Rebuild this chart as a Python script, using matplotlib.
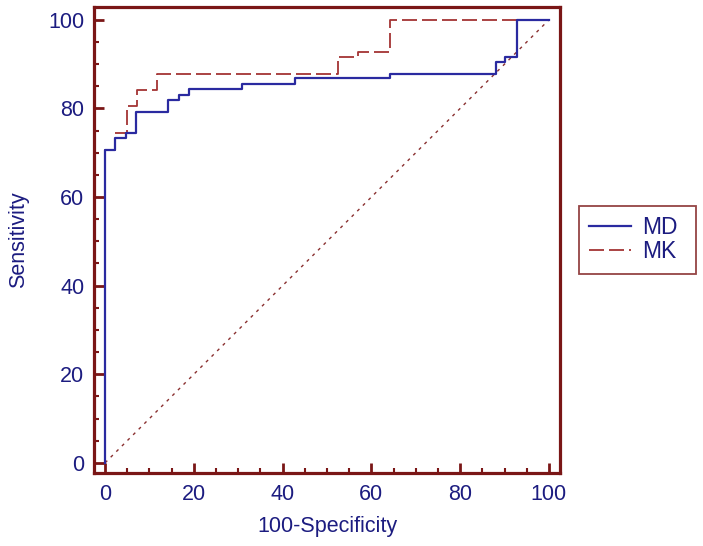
import matplotlib
matplotlib.use("Agg")
import matplotlib.pyplot as plt
from matplotlib.ticker import MultipleLocator

plt.rcParams['font.family'] = ['Liberation Sans', 'DejaVu Sans']
plt.rcParams['lines.scale_dashes'] = False

# ROC step points (100-Specificity, Sensitivity)
md_fpr = [0, 0, 2.2, 4.6, 7.0, 14.2, 16.7, 18.9, 30.9, 42.7, 64.3, 88.0, 90.2, 92.9, 100]
md_tpr = [0, 70.6, 73.3, 74.4, 79.3, 81.8, 83.1, 84.3, 85.6, 86.9, 87.8, 90.4, 91.7, 100, 100]
mk_fpr = [0, 0, 2.2, 4.9, 7.1, 11.8, 52.4, 56.9, 64.2, 100]
mk_tpr = [0, 70.6, 74.4, 80.6, 84.2, 87.8, 91.6, 92.7, 100, 100]
ref_x = [0, 100]
ref_y = [0, 100]
series_names = ["MD", "MK"]
xticks = [0, 20, 40, 60, 80, 100]
yticks = [0, 20, 40, 60, 80, 100]

spine_c = '#7a1616'
text_c = '#1c1c80'
blue_c = '#2a2aa0'
red_c = '#a43434'

fig = plt.figure(figsize=(7.03, 5.46), dpi=100)
ax = fig.add_axes([94/703, 1-473/546, (560-94)/703, (473-7)/546])

ax.plot(ref_x, ref_y, color='#8a3030', lw=1.0, dashes=(2.2, 3.5), zorder=1)
ax.step(mk_fpr, mk_tpr, where='post', color=red_c, lw=1.3, dashes=(10.8, 3.6),
        label=series_names[1], zorder=2)
ax.step(md_fpr, md_tpr, where='post', color=blue_c, lw=1.6,
        label=series_names[0], zorder=3)

ax.set_xlim(-2.5, 102.5)
ax.set_ylim(-2.3, 102.9)
ax.set_xticks(xticks)
ax.set_yticks(yticks)
ax.xaxis.set_minor_locator(MultipleLocator(5))
ax.yaxis.set_minor_locator(MultipleLocator(5))
ax.tick_params(which='both', direction='in', top=False, right=False,
               color=spine_c, labelcolor=text_c, labelsize=15.5)
ax.tick_params(axis='x', which='major', length=7.5, width=2.0, pad=8)
ax.tick_params(axis='y', which='major', length=7.5, width=2.0, pad=7)
ax.tick_params(which='minor', length=3.8, width=1.5)
for s in ax.spines.values():
    s.set_color(spine_c)
    s.set_linewidth(2.3)

ax.set_xlabel('100-Specificity', color=text_c, fontsize=15.5, labelpad=8)
ax.set_ylabel('Sensitivity', color=text_c, fontsize=15.5, labelpad=14)

h, l = ax.get_legend_handles_labels()
order = [1, 0]
leg = fig.legend([h[i] for i in order], [l[i] for i in order],
                 loc='upper left',
                 bbox_to_anchor=(579/703, 1-273/546, 117/703, 67/546),
                 mode='expand',
                 fontsize=16.5, frameon=True, fancybox=False,
                 handlelength=1.8, handletextpad=0.5, borderpad=0.45,
                 labelspacing=0.05, borderaxespad=0)
for t in leg.get_texts():
    t.set_color(text_c)
fr = leg.get_frame()
fr.set_edgecolor(spine_c)
fr.set_linewidth(1.3)

fig.savefig('out.png', dpi=100, facecolor='white')
